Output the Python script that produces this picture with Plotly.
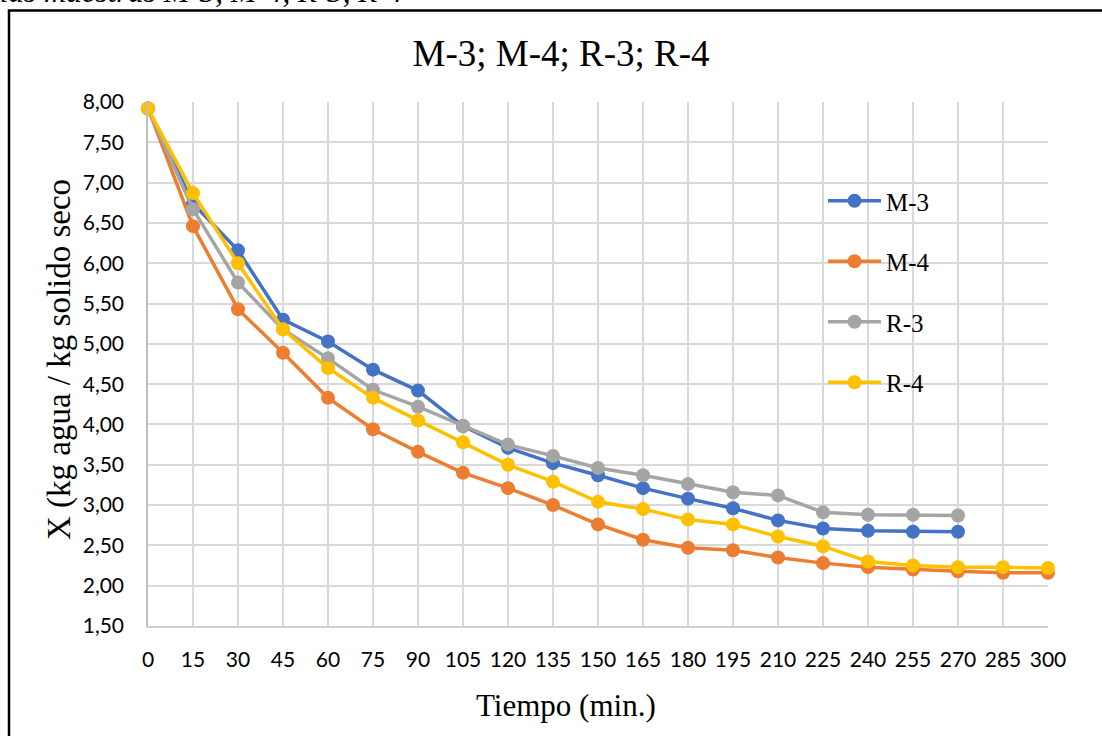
import plotly.graph_objects as go

tiempo = [0, 15, 30, 45, 60, 75, 90, 105, 120, 135, 150, 165, 180, 195, 210, 225, 240, 255, 270, 285, 300]

m3 = [7.92, 6.74, 6.16, 5.30, 5.03, 4.68, 4.42, 3.98, 3.71, 3.52, 3.37, 3.21, 3.08, 2.96, 2.81, 2.71, 2.68, 2.67, 2.67]
m4 = [7.92, 6.46, 5.43, 4.89, 4.33, 3.94, 3.66, 3.40, 3.21, 3.00, 2.76, 2.57, 2.47, 2.44, 2.35, 2.28, 2.23, 2.20, 2.18, 2.16, 2.16]
r3 = [7.92, 6.67, 5.76, 5.18, 4.82, 4.43, 4.22, 3.98, 3.75, 3.61, 3.46, 3.37, 3.26, 3.16, 3.12, 2.91, 2.88, 2.88, 2.87]
r4 = [7.92, 6.87, 6.00, 5.18, 4.70, 4.33, 4.05, 3.78, 3.50, 3.29, 3.04, 2.95, 2.82, 2.76, 2.61, 2.49, 2.30, 2.25, 2.23, 2.23, 2.22]

series = [("M-3", m3, "#4472C4"), ("M-4", m4, "#ED7D31"), ("R-3", r3, "#A5A5A5"), ("R-4", r4, "#FFC000")]

y_ticks = [1.5, 2.0, 2.5, 3.0, 3.5, 4.0, 4.5, 5.0, 5.5, 6.0, 6.5, 7.0, 7.5, 8.0]

fig = go.Figure()
for name, vals, col in series:
    fig.add_trace(go.Scatter(
        x=tiempo[:len(vals)], y=vals, name=name, mode="lines+markers",
        line=dict(color=col, width=3.5), marker=dict(color=col, size=14),
        cliponaxis=False, legendgroup=name,
    ))

serif = "Liberation Serif, Times New Roman, serif"
sans = "Lato, Carlito, Calibri, sans-serif"

fig.update_layout(
    width=1102, height=736,
    margin=dict(l=148, r=54, t=102, b=110),
    paper_bgcolor="white", plot_bgcolor="white",
    separators=",.",
    title=dict(text="M-3; M-4; R-3; R-4", font=dict(family=serif, size=37, color="#000"),
               x=561/1102, xanchor="center", xref="container",
               y=1-53/736, yanchor="middle", yref="container"),
    xaxis=dict(range=[0, 300], tickvals=tiempo, ticktext=[str(t) for t in tiempo],
               showgrid=True, gridcolor="#d9d9d9", gridwidth=1.5,
               showline=True, linecolor="#d0d0d0", linewidth=1.5,
               ticks="", ticklabelstandoff=14,
               tickfont=dict(family=sans, size=21, color="#000"), zeroline=False),
    yaxis=dict(range=[1.5, 8.0], tickvals=y_ticks, tickformat=".2f",
               showgrid=True, gridcolor="#d9d9d9", gridwidth=1.5,
               showline=True, linecolor="#bfbfbf", linewidth=1.5,
               ticks="", ticklabelstandoff=18,
               tickfont=dict(family=sans, size=21, color="#000"), zeroline=False),
    legend=dict(x=(823-148)/900, xanchor="left", y=(626-178)/524, yanchor="top",
                font=dict(family=serif, size=25, color="#000"),
                bgcolor="rgba(0,0,0,0)", tracegroupgap=25, traceorder="grouped",
                itemwidth=53),
    showlegend=True,
    annotations=[
        dict(text="Tiempo (min.)", x=(566-148)/900*300, xref="x", y=(626-705)/524, yref="paper",
             showarrow=False, xanchor="center", yanchor="middle",
             font=dict(family=serif, size=31, color="#000")),
        dict(text="X (kg agua / kg solido seco", x=(59-148)/900, xref="paper",
             y=(626-360)/524, yref="paper", textangle=-90,
             showarrow=False, xanchor="center", yanchor="middle",
             font=dict(family=serif, size=33, color="#000")),
        dict(text="<i>las muestras M-3, M-4, R-3, R-4</i>", x=(-2-148)/900, xref="paper",
             y=(626-11)/524, yref="paper", showarrow=False, xanchor="left", yanchor="bottom",
             font=dict(family=serif, size=31, color="#000")),
    ],
    shapes=[dict(type="rect", xref="paper", yref="paper",
                 x0=(9-148)/900, x1=(1115-148)/900, y0=(626-745)/524, y1=(626-10.5)/524,
                 line=dict(color="#000", width=2.5), fillcolor="rgba(0,0,0,0)", layer="below")],
)

fig.write_html("out.html")
